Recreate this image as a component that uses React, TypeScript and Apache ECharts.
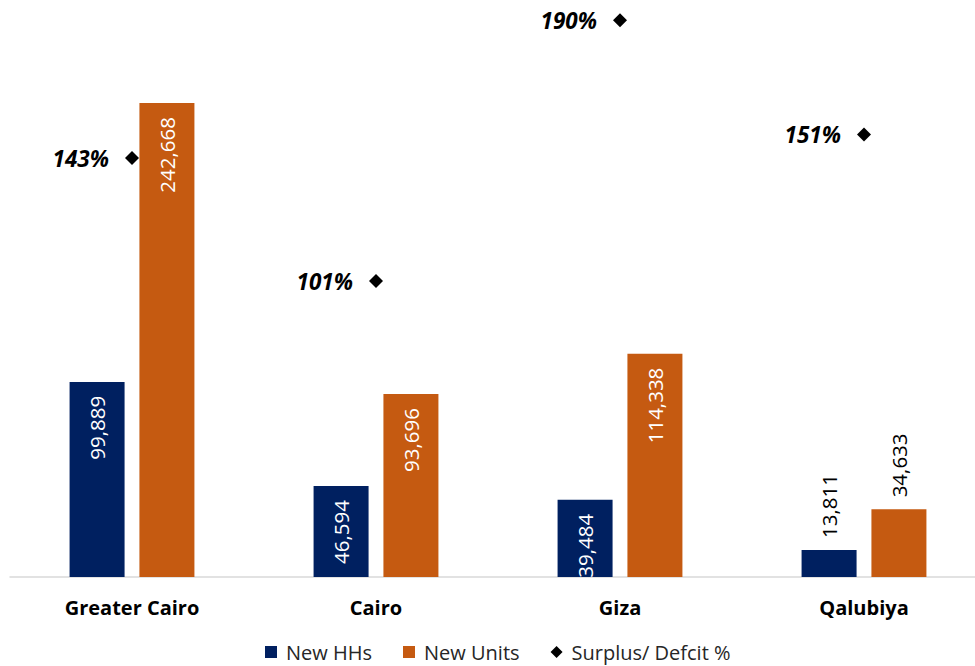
import React, { useEffect, useRef } from "react";
import * as echarts from "echarts";

const categories = ["Greater Cairo", "Cairo", "Giza", "Qalubiya"];
const newHHs = [99889, 46594, 39484, 13811];
const newUnits = [242668, 93696, 114338, 34633];
const surplusPct = [143, 101, 190, 151];
const outsideLabelCategories = ["Qalubiya"];

const FONT = "'Open Sans', 'Noto Sans', sans-serif";
const NAVY = "#002060";
const ORANGE = "#c55a11";

const fmt = (v: number) => v.toLocaleString("en-US");

function barData(values: number[]) {
  return values.map((v, i) => {
    const outside = outsideLabelCategories.includes(categories[i]);
    return {
      value: v,
      label: outside
        ? {
            position: "top",
            distance: 12,
            align: "left",
            verticalAlign: "middle",
            color: "#000",
          }
        : {
            position: "insideTop",
            distance: 14,
            align: "right",
            verticalAlign: "middle",
            color: "#fff",
          },
    };
  });
}

export default function App() {
  const ref = useRef<HTMLDivElement>(null);
  useEffect(() => {
    if (!ref.current) return;
    const chart = echarts.init(ref.current, null, { renderer: "svg" });
    const barLabel = {
      show: true,
      rotate: 90,
      fontFamily: FONT,
      fontSize: 20.5,
      formatter: (p: any) => fmt(p.value),
    };
    chart.setOption({
      animation: false,
      backgroundColor: "#fff",
      textStyle: { fontFamily: FONT },
      grid: {
        left: 10,
        right: -11,
        top: -9,
        bottom: 89,
        containLabel: false,
        outerBoundsMode: "none",
      },
      legend: {
        top: 642,
        left: 265,
        padding: 0,
        itemWidth: 12,
        itemHeight: 12,
        itemGap: 31,
        textStyle: {
          fontFamily: FONT,
          fontSize: 20,
          lineHeight: 20,
          color: "#262626",
          padding: [0, 0, 0, 4],
        },
        data: [
          { name: "New HHs", icon: "rect" },
          { name: "New Units", icon: "rect" },
          { name: "Surplus/ Defcit %", icon: "diamond" },
        ],
      },
      xAxis: {
        type: "category",
        data: categories,
        axisTick: { show: false },
        axisLine: { lineStyle: { color: "#d9d9d9", width: 1.5 } },
        axisLabel: {
          fontFamily: FONT,
          fontWeight: "bold",
          fontSize: 20,
          color: "#000",
          margin: 20,
        },
      },
      yAxis: [
        { type: "value", min: 0, max: 300000, show: false, splitLine: { show: false } },
        { type: "value", min: 0, max: 200, show: false, splitLine: { show: false } },
      ],
      series: [
        {
          name: "New HHs",
          type: "bar",
          barWidth: 55,
          barGap: "27%",
          itemStyle: { color: NAVY },
          label: barLabel,
          data: barData(newHHs),
        },
        {
          name: "New Units",
          type: "bar",
          barWidth: 55,
          barGap: "27%",
          itemStyle: { color: ORANGE },
          label: barLabel,
          data: barData(newUnits),
        },
        {
          name: "Surplus/ Defcit %",
          type: "scatter",
          yAxisIndex: 1,
          symbol: "diamond",
          symbolSize: 14,
          itemStyle: { color: "#000", opacity: 1 },
          label: {
            show: true,
            position: "left",
            distance: 16,
            fontFamily: FONT,
            fontSize: 22.5,
            fontStyle: "italic",
            fontWeight: "bold",
            color: "#000",
            formatter: (p: any) => p.value + "%",
          },
          data: surplusPct,
        },
      ],
    });
    return () => chart.dispose();
  }, []);
  return (
    <div
      ref={ref}
      style={{ position: "absolute", left: 0, top: 0, width: 975, height: 666 }}
    />
  );
}
